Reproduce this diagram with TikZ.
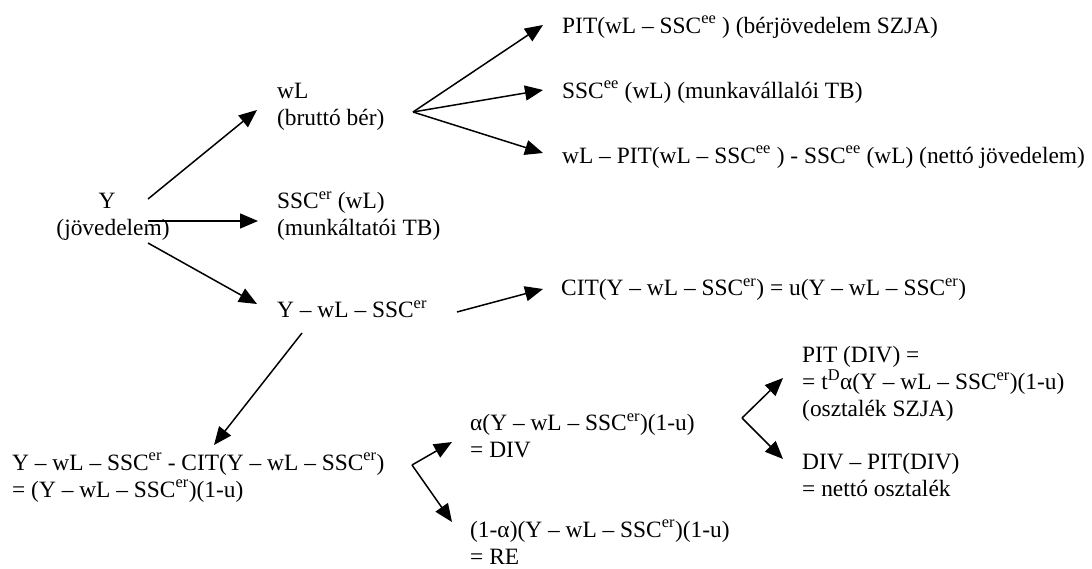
\documentclass[tikz,border=0pt]{standalone}
\usepackage{fontspec}
\setmainfont{Liberation Serif}
\usetikzlibrary{arrows.meta}
\tikzset{
  txt/.style={font=\fontsize{23.4}{27}\selectfont, inner sep=0pt, align=left, anchor=base west},
  ctxt/.style={font=\fontsize{23.4}{27}\selectfont, inner sep=0pt, align=center, anchor=base},
  arr/.style={line width=1.5pt, -{Triangle[length=18pt,width=15pt]}}
}
\begin{document}
\begin{tikzpicture}[x=1pt,y=-1pt]
\useasboundingbox (0,0) rectangle (1092,568);
% nodes (anchor = baseline of the last line)
\node[ctxt] (y) at (113,235.5) {Y\hspace*{12pt}\\(jövedelem)};
\node[txt] (wl) at (277,125.5) {wL\\(bruttó bér)};
\node[txt] (sscer) at (277,235.5) {SSC\textsuperscript{er} (wL)\\(munkáltatói TB)};
\node[txt] (ywl) at (277,317.5) {Y – wL – SSC\textsuperscript{er}};
\node[txt] (pit) at (562,33) {PIT(wL – SSC\textsuperscript{ee} ) (bérjövedelem SZJA)};
\node[txt] (sscee) at (562,98) {SSC\textsuperscript{ee} (wL) (munkavállalói TB)};
\node[txt] (net) at (562,163) {wL – PIT(wL – SSC\textsuperscript{ee} ) - SSC\textsuperscript{ee} (wL) (nettó jövedelem)};
\node[txt] (cit) at (561,295.5) {CIT(Y – wL – SSC\textsuperscript{er}) = u(Y – wL – SSC\textsuperscript{er})};
\node[txt] (after) at (12,497) {Y – wL – SSC\textsuperscript{er} - CIT(Y – wL – SSC\textsuperscript{er})\\= (Y – wL – SSC\textsuperscript{er})(1-u)};
\node[txt] (div) at (470,457.5) {α(Y – wL – SSC\textsuperscript{er})(1-u)\\= DIV};
\node[txt] (re) at (470,564) {(1-α)(Y – wL – SSC\textsuperscript{er})(1-u)\\= RE};
\node[txt] (pitdiv) at (802,416.5) {PIT (DIV) =\\= t\textsuperscript{D}α(Y – wL – SSC\textsuperscript{er})(1-u)\\(osztalék SZJA)};
\node[txt] (netdiv) at (802,496.5) {DIV – PIT(DIV)\\= nettó osztalék};
% connector end points
\coordinate (y1) at (148,199);   \coordinate (wlin) at (257,110);
\coordinate (y2) at (148,221);   \coordinate (sscin) at (258,221);
\coordinate (y3) at (148,243);   \coordinate (ywlin) at (257,304);
\coordinate (wlout) at (413,112);
\coordinate (pitin) at (543,25); \coordinate (ssceein) at (543,90); \coordinate (netin) at (543,153);
\coordinate (ywlout1) at (457,312); \coordinate (citin) at (543,289);
\coordinate (ywlout2) at (302,333); \coordinate (afterin) at (214,445);
\coordinate (afterout) at (412,465);
\coordinate (divin) at (452,442); \coordinate (rein) at (452,522);
\coordinate (divout) at (742,418);
\coordinate (pitdivin) at (783,378); \coordinate (netdivin) at (783,459);
% connectors
\draw[arr] (y1) -- (wlin);
\draw[arr] (y2) -- (sscin);
\draw[arr] (y3) -- (ywlin);
\draw[arr] (wlout) -- (pitin);
\draw[arr] (wlout) -- (ssceein);
\draw[arr] (wlout) -- (netin);
\draw[arr] (ywlout1) -- (citin);
\draw[arr] (ywlout2) -- (afterin);
\draw[arr] (afterout) -- (divin);
\draw[arr] (afterout) -- (rein);
\draw[arr] (divout) -- (pitdivin);
\draw[arr] (divout) -- (netdivin);
\end{tikzpicture}
\end{document}
